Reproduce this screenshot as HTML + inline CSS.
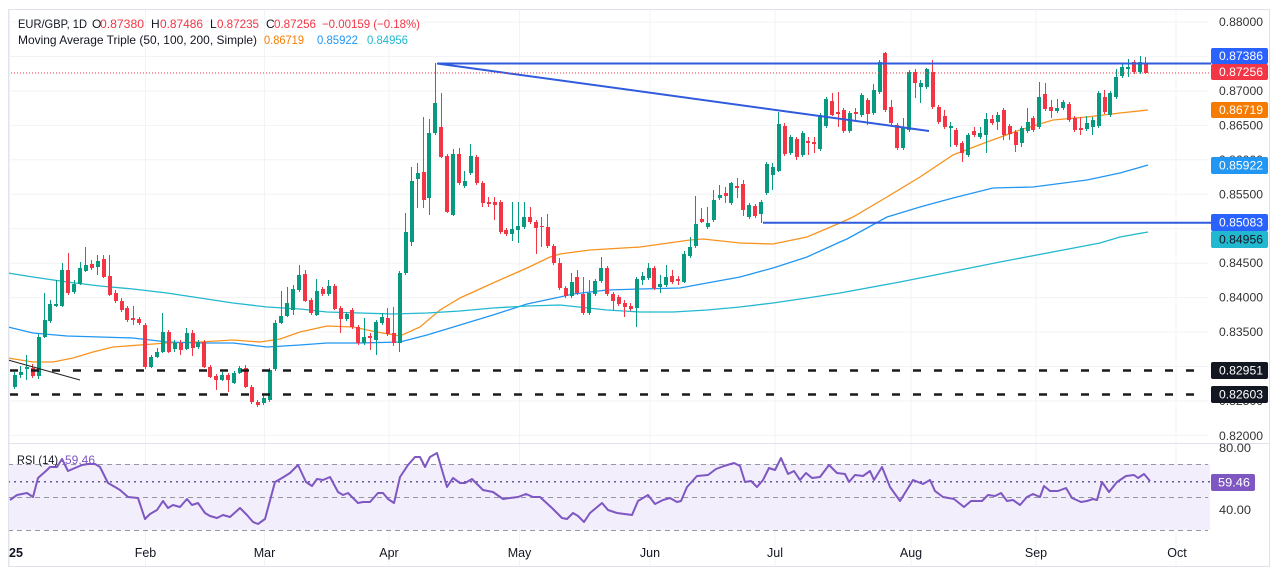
<!DOCTYPE html>
<html><head><meta charset="utf-8">
<style>
html,body{margin:0;padding:0;background:#fff;}
#w{position:relative;width:1280px;height:578px;overflow:hidden;background:#fff;font-family:"Liberation Sans",sans-serif;}
svg{position:absolute;left:0;top:0;}
#c{position:absolute;left:11.9675px;top:0;height:578px;display:flex;}
#c i{position:relative;width:5.935px;flex:none;height:578px;display:block;}
#c i::before{content:"";position:absolute;left:calc(50% - 0.5px);width:1px;top:var(--h);height:calc(var(--l) - var(--h));background:var(--k);}
#c i::after{content:"";position:absolute;left:calc(50% - 2px);width:4px;top:var(--t);height:max(1px, calc(var(--b) - var(--t)));background:var(--k);}
.g{--k:#089981}
.r{--k:#f23645}
</style></head><body>
<div id="w">
<svg width="1280" height="578" viewBox="0 0 1280 578">
<g stroke="#f2f3f5" stroke-width="1">
<line x1="8" x2="1208" y1="22" y2="22"/><line x1="8" x2="1208" y1="56.5" y2="56.5"/><line x1="8" x2="1208" y1="90.9" y2="90.9"/><line x1="8" x2="1208" y1="125.4" y2="125.4"/><line x1="8" x2="1208" y1="159.8" y2="159.8"/><line x1="8" x2="1208" y1="194.3" y2="194.3"/><line x1="8" x2="1208" y1="228.7" y2="228.7"/><line x1="8" x2="1208" y1="263.2" y2="263.2"/><line x1="8" x2="1208" y1="297.6" y2="297.6"/><line x1="8" x2="1208" y1="332" y2="332"/><line x1="8" x2="1208" y1="366.5" y2="366.5"/><line x1="8" x2="1208" y1="401" y2="401"/><line x1="8" x2="1208" y1="435.4" y2="435.4"/>
<line x1="9.5" x2="9.5" y1="10" y2="566"/><line x1="145.5" x2="145.5" y1="10" y2="566"/><line x1="264.5" x2="264.5" y1="10" y2="566"/><line x1="389" x2="389" y1="10" y2="566"/><line x1="519.5" x2="519.5" y1="10" y2="566"/><line x1="650" x2="650" y1="10" y2="566"/><line x1="775" x2="775" y1="10" y2="566"/><line x1="911" x2="911" y1="10" y2="566"/><line x1="1036" x2="1036" y1="10" y2="566"/><line x1="1176" x2="1176" y1="10" y2="566"/>
</g>
<rect x="8" y="464" width="1202" height="66" fill="#f2eefb"/>
<g stroke="#9598a1" stroke-width="1" stroke-dasharray="5 4">
<line x1="8" x2="1208" y1="464.5" y2="464.5"/><line x1="8" x2="1208" y1="497.5" y2="497.5"/><line x1="8" x2="1208" y1="530.5" y2="530.5"/>
</g>
<line x1="8" x2="1210" y1="481.7" y2="481.7" stroke="#6a5a9c" stroke-width="1.5" stroke-dasharray="2 4"/>
<polyline fill="none" stroke="#f7931e" stroke-width="1.3" points="8,358 33,362 53,362 73,358 93,352 113,347 140,345 167,343 200,342 233,340 260,342 280,339 300,332 327,326 353,327 377,332 400,336 420,327 440,310 460,298 493,283 527,268 550,257 560,254 590,250 640,247 690,240 703,239 740,243 773,244 807,237 840,223 853,217 887,197 920,177 953,155 987,142 1020,130 1053,120 1087,117 1120,113 1148,110"/>
<polyline fill="none" stroke="#2196f3" stroke-width="1.3" points="8,327 33,333 67,336 100,337 133,338 167,342 200,343 233,343 267,347 300,345 327,343 360,343 400,342 427,335 460,325 493,315 527,304 560,297 573,294 607,290 640,289 680,288 707,283 740,277 773,268 807,257 840,242 847,239 887,217 920,207 953,198 993,188 1033,187 1087,180 1120,173 1148,165"/>
<polyline fill="none" stroke="#22b8cf" stroke-width="1.3" points="8,273 33,277 67,282 100,286 133,289 167,293 200,298 233,303 267,307 300,309 327,312 360,313 393,314 427,313 460,311 493,308 527,306 560,305 607,310 640,312 673,312 707,310 740,307 773,303 807,298 840,293 900,282 1000,262 1100,243 1120,237 1148,232"/>
<polyline fill="none" stroke="#7e57c2" stroke-width="2" stroke-linejoin="round" points="10,500 17,495 27,493 33,497 38,478 47,470 50,467 57,467 62,459 68,471 75,468 82,465 88,464 95,464 100,467 108,483 115,487 120,490 128,497 138,498 145,519 150,514 157,510 163,501 168,508 173,505 180,507 187,499 192,505 198,503 205,513 210,516 217,518 223,515 230,517 240,508 247,515 253,522 258,524 265,519 275,482 282,478 290,473 298,465 306,482 312,486 317,479 323,480 330,477 338,492 343,495 348,493 358,503 363,502 370,502 378,493 383,493 388,499 394,503 400,477 408,465 415,457 420,457 425,467 430,457 437,453 447,487 453,478 460,483 465,483 472,479 483,490 493,492 503,499 510,498 518,497 526,494 533,497 540,497 552,508 562,518 567,519 573,513 578,516 584,522 590,513 602,503 608,510 617,513 632,515 638,501 648,495 655,504 663,500 670,498 677,502 681,501 687,487 697,476 708,475 716,469 724,466 734,463 740,466 745,482 751,481 757,487 763,480 769,468 775,470 781,458 788,474 794,471 800,480 806,473 812,478 820,477 829,465 837,473 845,474 849,482 855,475 863,476 870,471 874,480 882,467 890,487 900,501 913,480 923,484 930,480 935,491 943,497 954,499 964,507 971,501 982,501 988,495 995,496 1001,493 1007,501 1013,500 1020,505 1027,497 1033,494 1040,497 1044,486 1050,491 1058,491 1066,488 1072,498 1081,502 1087,501 1093,499 1097,500 1102,482 1109,492 1117,482 1126,476 1134,475 1138,478 1144,474 1150,481"/>
</svg>
<div id="c">
<i class="g" style="--h:372px;--t:375px;--b:387px;--l:389px"></i>
<i class="g" style="--h:366px;--t:372px;--b:375px;--l:378px"></i>
<i class="g" style="--h:355px;--t:367px;--b:369px;--l:380px"></i>
<i class="r" style="--h:364px;--t:368px;--b:376px;--l:378px"></i>
<i class="g" style="--h:334px;--t:337px;--b:376px;--l:379px"></i>
<i class="g" style="--h:293px;--t:320px;--b:337px;--l:338px"></i>
<i class="g" style="--h:300px;--t:304px;--b:321px;--l:323px"></i>
<i class="g" style="--h:280px;--t:304px;--b:306px;--l:307px"></i>
<i class="g" style="--h:263px;--t:270px;--b:306px;--l:307px"></i>
<i class="r" style="--h:253px;--t:270px;--b:293px;--l:295px"></i>
<i class="g" style="--h:280px;--t:284px;--b:292px;--l:294px"></i>
<i class="g" style="--h:262px;--t:268px;--b:284px;--l:285px"></i>
<i class="g" style="--h:247px;--t:265px;--b:271px;--l:272px"></i>
<i class="r" style="--h:260px;--t:264px;--b:268px;--l:270px"></i>
<i class="g" style="--h:255px;--t:261px;--b:267px;--l:275px"></i>
<i class="r" style="--h:255px;--t:259px;--b:277px;--l:278px"></i>
<i class="r" style="--h:255px;--t:276px;--b:295px;--l:296px"></i>
<i class="r" style="--h:290px;--t:293px;--b:301px;--l:303px"></i>
<i class="r" style="--h:298px;--t:301px;--b:310px;--l:312px"></i>
<i class="r" style="--h:306px;--t:308px;--b:320px;--l:322px"></i>
<i class="r" style="--h:306px;--t:318px;--b:320px;--l:325px"></i>
<i class="r" style="--h:317px;--t:319px;--b:323px;--l:325px"></i>
<i class="r" style="--h:323px;--t:325px;--b:367px;--l:369px"></i>
<i class="g" style="--h:355px;--t:357px;--b:367px;--l:368px"></i>
<i class="g" style="--h:348px;--t:352px;--b:357px;--l:358px"></i>
<i class="g" style="--h:313px;--t:332px;--b:352px;--l:353px"></i>
<i class="r" style="--h:330px;--t:332px;--b:352px;--l:353px"></i>
<i class="g" style="--h:340px;--t:343px;--b:349px;--l:352px"></i>
<i class="r" style="--h:340px;--t:343px;--b:350px;--l:355px"></i>
<i class="g" style="--h:328px;--t:333px;--b:349px;--l:350px"></i>
<i class="r" style="--h:330px;--t:333px;--b:348px;--l:356px"></i>
<i class="g" style="--h:340px;--t:342px;--b:347px;--l:349px"></i>
<i class="r" style="--h:340px;--t:342px;--b:367px;--l:368px"></i>
<i class="r" style="--h:365px;--t:367px;--b:377px;--l:378px"></i>
<i class="r" style="--h:374px;--t:376px;--b:380px;--l:390px"></i>
<i class="g" style="--h:372px;--t:375px;--b:380px;--l:381px"></i>
<i class="r" style="--h:373px;--t:375px;--b:380px;--l:392px"></i>
<i class="g" style="--h:371px;--t:373px;--b:383px;--l:384px"></i>
<i class="g" style="--h:366px;--t:368px;--b:373px;--l:374px"></i>
<i class="r" style="--h:365px;--t:368px;--b:387px;--l:388px"></i>
<i class="r" style="--h:385px;--t:387px;--b:402px;--l:404px"></i>
<i class="r" style="--h:400px;--t:402px;--b:405px;--l:407px"></i>
<i class="g" style="--h:395px;--t:398px;--b:403px;--l:405px"></i>
<i class="g" style="--h:368px;--t:370px;--b:400px;--l:402px"></i>
<i class="g" style="--h:320px;--t:323px;--b:369px;--l:371px"></i>
<i class="g" style="--h:291px;--t:316px;--b:323px;--l:324px"></i>
<i class="g" style="--h:287px;--t:303px;--b:316px;--l:317px"></i>
<i class="g" style="--h:285px;--t:289px;--b:310px;--l:315px"></i>
<i class="g" style="--h:265px;--t:275px;--b:290px;--l:292px"></i>
<i class="r" style="--h:270px;--t:274px;--b:301px;--l:302px"></i>
<i class="r" style="--h:298px;--t:300px;--b:313px;--l:315px"></i>
<i class="g" style="--h:279px;--t:291px;--b:315px;--l:316px"></i>
<i class="r" style="--h:287px;--t:289px;--b:294px;--l:296px"></i>
<i class="g" style="--h:280px;--t:286px;--b:294px;--l:296px"></i>
<i class="r" style="--h:284px;--t:286px;--b:309px;--l:310px"></i>
<i class="r" style="--h:306px;--t:308px;--b:319px;--l:333px"></i>
<i class="g" style="--h:312px;--t:314px;--b:319px;--l:321px"></i>
<i class="r" style="--h:308px;--t:310px;--b:327px;--l:329px"></i>
<i class="r" style="--h:325px;--t:327px;--b:343px;--l:345px"></i>
<i class="g" style="--h:318px;--t:337px;--b:343px;--l:345px"></i>
<i class="r" style="--h:333px;--t:336px;--b:338px;--l:350px"></i>
<i class="g" style="--h:320px;--t:322px;--b:340px;--l:355px"></i>
<i class="g" style="--h:313px;--t:317px;--b:323px;--l:325px"></i>
<i class="r" style="--h:308px;--t:318px;--b:334px;--l:336px"></i>
<i class="r" style="--h:307px;--t:333px;--b:343px;--l:346px"></i>
<i class="g" style="--h:271px;--t:273px;--b:343px;--l:352px"></i>
<i class="g" style="--h:213px;--t:232px;--b:273px;--l:275px"></i>
<i class="g" style="--h:167px;--t:181px;--b:242px;--l:246px"></i>
<i class="g" style="--h:163px;--t:173px;--b:179px;--l:208px"></i>
<i class="r" style="--h:117px;--t:172px;--b:200px;--l:208px"></i>
<i class="g" style="--h:119px;--t:133px;--b:198px;--l:215px"></i>
<i class="g" style="--h:63px;--t:103px;--b:133px;--l:135px"></i>
<i class="r" style="--h:93px;--t:127px;--b:157px;--l:158px"></i>
<i class="r" style="--h:154px;--t:156px;--b:212px;--l:213px"></i>
<i class="g" style="--h:149px;--t:154px;--b:215px;--l:216px"></i>
<i class="r" style="--h:148px;--t:154px;--b:183px;--l:185px"></i>
<i class="g" style="--h:171px;--t:181px;--b:186px;--l:188px"></i>
<i class="g" style="--h:144px;--t:156px;--b:173px;--l:175px"></i>
<i class="r" style="--h:155px;--t:157px;--b:183px;--l:185px"></i>
<i class="r" style="--h:181px;--t:183px;--b:203px;--l:207px"></i>
<i class="r" style="--h:197px;--t:202px;--b:204px;--l:207px"></i>
<i class="r" style="--h:197px;--t:202px;--b:205px;--l:220px"></i>
<i class="r" style="--h:200px;--t:202px;--b:232px;--l:234px"></i>
<i class="r" style="--h:228px;--t:230px;--b:234px;--l:236px"></i>
<i class="g" style="--h:202px;--t:229px;--b:234px;--l:241px"></i>
<i class="g" style="--h:202px;--t:226px;--b:230px;--l:243px"></i>
<i class="g" style="--h:202px;--t:217px;--b:227px;--l:229px"></i>
<i class="r" style="--h:207px;--t:217px;--b:222px;--l:224px"></i>
<i class="r" style="--h:220px;--t:222px;--b:228px;--l:254px"></i>
<i class="r" style="--h:217px;--t:226px;--b:227px;--l:247px"></i>
<i class="r" style="--h:214px;--t:227px;--b:246px;--l:248px"></i>
<i class="r" style="--h:244px;--t:246px;--b:263px;--l:265px"></i>
<i class="r" style="--h:258px;--t:263px;--b:288px;--l:290px"></i>
<i class="r" style="--h:286px;--t:288px;--b:296px;--l:298px"></i>
<i class="g" style="--h:273px;--t:282px;--b:296px;--l:298px"></i>
<i class="r" style="--h:270px;--t:277px;--b:293px;--l:295px"></i>
<i class="r" style="--h:277px;--t:294px;--b:313px;--l:315px"></i>
<i class="g" style="--h:280px;--t:293px;--b:313px;--l:315px"></i>
<i class="g" style="--h:279px;--t:281px;--b:294px;--l:296px"></i>
<i class="g" style="--h:257px;--t:268px;--b:281px;--l:283px"></i>
<i class="r" style="--h:266px;--t:268px;--b:294px;--l:296px"></i>
<i class="r" style="--h:292px;--t:294px;--b:301px;--l:310px"></i>
<i class="r" style="--h:295px;--t:297px;--b:304px;--l:306px"></i>
<i class="r" style="--h:300px;--t:303px;--b:307px;--l:317px"></i>
<i class="r" style="--h:303px;--t:306px;--b:309px;--l:311px"></i>
<i class="g" style="--h:277px;--t:279px;--b:308px;--l:327px"></i>
<i class="g" style="--h:272px;--t:276px;--b:280px;--l:285px"></i>
<i class="g" style="--h:263px;--t:268px;--b:278px;--l:280px"></i>
<i class="r" style="--h:266px;--t:268px;--b:288px;--l:290px"></i>
<i class="g" style="--h:275px;--t:284px;--b:287px;--l:293px"></i>
<i class="g" style="--h:265px;--t:277px;--b:285px;--l:287px"></i>
<i class="r" style="--h:270px;--t:276px;--b:282px;--l:284px"></i>
<i class="r" style="--h:276px;--t:279px;--b:281px;--l:285px"></i>
<i class="g" style="--h:251px;--t:254px;--b:282px;--l:283px"></i>
<i class="g" style="--h:237px;--t:247px;--b:256px;--l:258px"></i>
<i class="g" style="--h:196px;--t:224px;--b:246px;--l:248px"></i>
<i class="r" style="--h:208px;--t:219px;--b:222px;--l:223px"></i>
<i class="g" style="--h:207px;--t:223px;--b:227px;--l:229px"></i>
<i class="g" style="--h:190px;--t:200px;--b:220px;--l:222px"></i>
<i class="g" style="--h:185px;--t:195px;--b:198px;--l:200px"></i>
<i class="r" style="--h:187px;--t:193px;--b:196px;--l:203px"></i>
<i class="g" style="--h:182px;--t:183px;--b:203px;--l:205px"></i>
<i class="r" style="--h:178px;--t:186px;--b:188px;--l:198px"></i>
<i class="r" style="--h:180px;--t:184px;--b:210px;--l:216px"></i>
<i class="g" style="--h:203px;--t:205px;--b:217px;--l:219px"></i>
<i class="r" style="--h:204px;--t:206px;--b:216px;--l:218px"></i>
<i class="g" style="--h:200px;--t:202px;--b:214px;--l:223px"></i>
<i class="g" style="--h:162px;--t:164px;--b:193px;--l:195px"></i>
<i class="g" style="--h:163px;--t:167px;--b:175px;--l:190px"></i>
<i class="g" style="--h:112px;--t:124px;--b:171px;--l:172px"></i>
<i class="r" style="--h:123px;--t:126px;--b:154px;--l:156px"></i>
<i class="g" style="--h:135px;--t:137px;--b:153px;--l:155px"></i>
<i class="r" style="--h:137px;--t:139px;--b:157px;--l:160px"></i>
<i class="g" style="--h:131px;--t:133px;--b:155px;--l:157px"></i>
<i class="r" style="--h:137px;--t:141px;--b:143px;--l:155px"></i>
<i class="r" style="--h:137px;--t:142px;--b:144px;--l:153px"></i>
<i class="g" style="--h:113px;--t:115px;--b:149px;--l:151px"></i>
<i class="g" style="--h:97px;--t:99px;--b:126px;--l:128px"></i>
<i class="r" style="--h:93px;--t:101px;--b:115px;--l:116px"></i>
<i class="r" style="--h:92px;--t:112px;--b:114px;--l:127px"></i>
<i class="r" style="--h:108px;--t:110px;--b:131px;--l:133px"></i>
<i class="g" style="--h:111px;--t:113px;--b:131px;--l:133px"></i>
<i class="r" style="--h:108px;--t:112px;--b:114px;--l:120px"></i>
<i class="g" style="--h:93px;--t:95px;--b:115px;--l:117px"></i>
<i class="r" style="--h:98px;--t:100px;--b:114px;--l:125px"></i>
<i class="g" style="--h:84px;--t:90px;--b:113px;--l:115px"></i>
<i class="g" style="--h:60px;--t:62px;--b:92px;--l:94px"></i>
<i class="r" style="--h:52px;--t:53px;--b:110px;--l:112px"></i>
<i class="r" style="--h:100px;--t:107px;--b:123px;--l:125px"></i>
<i class="r" style="--h:123px;--t:125px;--b:148px;--l:150px"></i>
<i class="g" style="--h:118px;--t:128px;--b:148px;--l:150px"></i>
<i class="g" style="--h:70px;--t:72px;--b:130px;--l:132px"></i>
<i class="r" style="--h:69px;--t:72px;--b:83px;--l:98px"></i>
<i class="g" style="--h:80px;--t:83px;--b:87px;--l:103px"></i>
<i class="g" style="--h:68px;--t:69px;--b:87px;--l:89px"></i>
<i class="r" style="--h:60px;--t:72px;--b:107px;--l:109px"></i>
<i class="r" style="--h:105px;--t:107px;--b:122px;--l:124px"></i>
<i class="r" style="--h:110px;--t:116px;--b:127px;--l:129px"></i>
<i class="g" style="--h:122px;--t:126px;--b:128px;--l:147px"></i>
<i class="r" style="--h:128px;--t:130px;--b:145px;--l:147px"></i>
<i class="r" style="--h:141px;--t:143px;--b:153px;--l:162px"></i>
<i class="g" style="--h:133px;--t:135px;--b:155px;--l:157px"></i>
<i class="r" style="--h:127px;--t:131px;--b:135px;--l:137px"></i>
<i class="g" style="--h:127px;--t:133px;--b:137px;--l:139px"></i>
<i class="g" style="--h:113px;--t:119px;--b:135px;--l:153px"></i>
<i class="r" style="--h:115px;--t:119px;--b:123px;--l:125px"></i>
<i class="g" style="--h:112px;--t:115px;--b:122px;--l:130px"></i>
<i class="r" style="--h:108px;--t:110px;--b:135px;--l:140px"></i>
<i class="r" style="--h:124px;--t:126px;--b:134px;--l:140px"></i>
<i class="r" style="--h:130px;--t:132px;--b:145px;--l:152px"></i>
<i class="g" style="--h:126px;--t:128px;--b:143px;--l:147px"></i>
<i class="g" style="--h:108px;--t:122px;--b:131px;--l:133px"></i>
<i class="r" style="--h:116px;--t:118px;--b:130px;--l:132px"></i>
<i class="g" style="--h:82px;--t:97px;--b:127px;--l:129px"></i>
<i class="r" style="--h:83px;--t:94px;--b:109px;--l:111px"></i>
<i class="r" style="--h:100px;--t:107px;--b:111px;--l:118px"></i>
<i class="g" style="--h:99px;--t:108px;--b:111px;--l:113px"></i>
<i class="g" style="--h:100px;--t:102px;--b:108px;--l:110px"></i>
<i class="r" style="--h:102px;--t:104px;--b:120px;--l:122px"></i>
<i class="r" style="--h:116px;--t:118px;--b:130px;--l:132px"></i>
<i class="r" style="--h:117px;--t:128px;--b:130px;--l:135px"></i>
<i class="g" style="--h:116px;--t:123px;--b:129px;--l:131px"></i>
<i class="g" style="--h:117px;--t:120px;--b:127px;--l:135px"></i>
<i class="g" style="--h:91px;--t:93px;--b:126px;--l:128px"></i>
<i class="r" style="--h:90px;--t:97px;--b:112px;--l:114px"></i>
<i class="g" style="--h:91px;--t:93px;--b:115px;--l:117px"></i>
<i class="g" style="--h:69px;--t:77px;--b:97px;--l:99px"></i>
<i class="g" style="--h:64px;--t:67px;--b:76px;--l:78px"></i>
<i class="g" style="--h:59px;--t:67px;--b:69px;--l:77px"></i>
<i class="r" style="--h:60px;--t:62px;--b:72px;--l:74px"></i>
<i class="g" style="--h:56px;--t:62px;--b:72px;--l:74px"></i>
<i class="r" style="--h:57px;--t:64px;--b:73px;--l:74px"></i>
</div>
<svg width="1280" height="578" viewBox="0 0 1280 578">
<line x1="8" y1="360" x2="80" y2="380" stroke="#222" stroke-width="1"/>
<g stroke="#2f5bdc" stroke-width="2">
<line x1="437" y1="63.5" x2="1211" y2="63.5"/>
<line x1="437" y1="63.5" x2="929" y2="131"/>
<line x1="763" y1="222.7" x2="1211" y2="222.7"/>
</g>
<g stroke="#1a1a1a" stroke-width="2.5" stroke-dasharray="8 13">
<line x1="10" y1="370.5" x2="1206" y2="370.5"/>
<line x1="10" y1="394.5" x2="1206" y2="394.5"/>
</g>
<line x1="8" y1="73" x2="1211" y2="73" stroke="#f23645" stroke-width="1" stroke-dasharray="1 2"/>
<rect x="8.5" y="9.5" width="1261" height="557" fill="none" stroke="#e0e3eb" stroke-width="1"/>
<line x1="8" y1="443.5" x2="1270" y2="443.5" stroke="#e0e3eb" stroke-width="1"/>

<g font-family="Liberation Sans, sans-serif" font-size="12" fill="#333" dominant-baseline="central">
<text x="1219" y="22" textLength="44" lengthAdjust="spacingAndGlyphs">0.88000</text>
<text x="1219" y="90.9" textLength="44" lengthAdjust="spacingAndGlyphs">0.87000</text>
<text x="1219" y="125.4" textLength="44" lengthAdjust="spacingAndGlyphs">0.86500</text>
<text x="1219" y="159.8" textLength="44" lengthAdjust="spacingAndGlyphs">0.86000</text>
<text x="1219" y="194.3" textLength="44" lengthAdjust="spacingAndGlyphs">0.85500</text>
<text x="1219" y="263.2" textLength="44" lengthAdjust="spacingAndGlyphs">0.84500</text>
<text x="1219" y="297.6" textLength="44" lengthAdjust="spacingAndGlyphs">0.84000</text>
<text x="1219" y="332" textLength="44" lengthAdjust="spacingAndGlyphs">0.83500</text>
<text x="1219" y="401" textLength="44" lengthAdjust="spacingAndGlyphs">0.82500</text>
<text x="1219" y="436" textLength="44" lengthAdjust="spacingAndGlyphs">0.82000</text>
<text x="1219" y="448" textLength="32" lengthAdjust="spacingAndGlyphs">80.00</text>
<text x="1219" y="510" textLength="32" lengthAdjust="spacingAndGlyphs">40.00</text>
</g>
<g font-family="Liberation Sans, sans-serif" font-size="12" dominant-baseline="central">
<rect x="1211" y="48" width="57" height="16" rx="2" fill="#2962ff"/>
<text x="1219" y="56" fill="#fff" textLength="44" lengthAdjust="spacingAndGlyphs">0.87386</text>
<rect x="1211" y="64" width="57" height="16" rx="2" fill="#f23645"/>
<text x="1219" y="72" fill="#fff" textLength="44" lengthAdjust="spacingAndGlyphs">0.87256</text>
<rect x="1211" y="102" width="57" height="16" rx="2" fill="#f57c00"/>
<text x="1219" y="110" fill="#fff" textLength="44" lengthAdjust="spacingAndGlyphs">0.86719</text>
<rect x="1211" y="157" width="57" height="17" rx="2" fill="#2196f3"/>
<text x="1219" y="165.5" fill="#fff" textLength="44" lengthAdjust="spacingAndGlyphs">0.85922</text>
<rect x="1211" y="214" width="57" height="17" rx="2" fill="#2962ff"/>
<text x="1219" y="222.5" fill="#fff" textLength="44" lengthAdjust="spacingAndGlyphs">0.85083</text>
<rect x="1211" y="231" width="57" height="17" rx="2" fill="#22b8cf"/>
<text x="1219" y="239.5" fill="#131722" textLength="44" lengthAdjust="spacingAndGlyphs">0.84956</text>
<rect x="1211" y="362" width="57" height="17" rx="2" fill="#131722"/>
<text x="1219" y="370.5" fill="#fff" textLength="44" lengthAdjust="spacingAndGlyphs">0.82951</text>
<rect x="1211" y="386" width="57" height="17" rx="2" fill="#131722"/>
<text x="1219" y="394.5" fill="#fff" textLength="44" lengthAdjust="spacingAndGlyphs">0.82603</text>
<rect x="1211" y="474" width="44" height="17" rx="2" fill="#7e57c2"/>
<text x="1218" y="482.5" fill="#fff" textLength="32" lengthAdjust="spacingAndGlyphs">59.46</text>
</g>
<g font-family="Liberation Sans, sans-serif" font-size="12.5" fill="#131722" text-anchor="middle">
<text x="16" y="557" font-weight="bold">25</text>
<text x="145.5" y="557">Feb</text>
<text x="264.5" y="557">Mar</text>
<text x="389" y="557">Apr</text>
<text x="519.5" y="557">May</text>
<text x="650" y="557">Jun</text>
<text x="775" y="557">Jul</text>
<text x="911" y="557">Aug</text>
<text x="1036" y="557">Sep</text>
<text x="1177" y="557">Oct</text>
</g>
<g font-family="Liberation Sans, sans-serif" font-size="12">
<text x="18" y="28" fill="#131722" textLength="69" lengthAdjust="spacingAndGlyphs">EUR/GBP, 1D</text>
<text x="92" y="28" fill="#131722">O</text>
<text x="100" y="28" fill="#f23645" textLength="44" lengthAdjust="spacingAndGlyphs">0.87380</text>
<text x="151" y="28" fill="#131722">H</text>
<text x="160" y="28" fill="#f23645" textLength="43" lengthAdjust="spacingAndGlyphs">0.87486</text>
<text x="210" y="28" fill="#131722">L</text>
<text x="217" y="28" fill="#f23645" textLength="42" lengthAdjust="spacingAndGlyphs">0.87235</text>
<text x="266" y="28" fill="#131722">C</text>
<text x="274" y="28" fill="#f23645" textLength="42" lengthAdjust="spacingAndGlyphs">0.87256</text>
<text x="322" y="28" fill="#f23645" textLength="98" lengthAdjust="spacingAndGlyphs">−0.00159 (−0.18%)</text>
<text x="18" y="44" fill="#131722" textLength="239" lengthAdjust="spacingAndGlyphs">Moving Average Triple (50, 100, 200, Simple)</text>
<text x="264" y="44" fill="#f57c00" textLength="40" lengthAdjust="spacingAndGlyphs">0.86719</text>
<text x="317" y="44" fill="#2196f3" textLength="41" lengthAdjust="spacingAndGlyphs">0.85922</text>
<text x="367" y="44" fill="#22b8cf" textLength="41" lengthAdjust="spacingAndGlyphs">0.84956</text>
<text x="17" y="464" fill="#131722" textLength="41" lengthAdjust="spacingAndGlyphs">RSI (14)</text>
<text x="65" y="464" fill="#7e57c2" textLength="30" lengthAdjust="spacingAndGlyphs">59.46</text>
</g>
</svg>
</div>
</body></html>
